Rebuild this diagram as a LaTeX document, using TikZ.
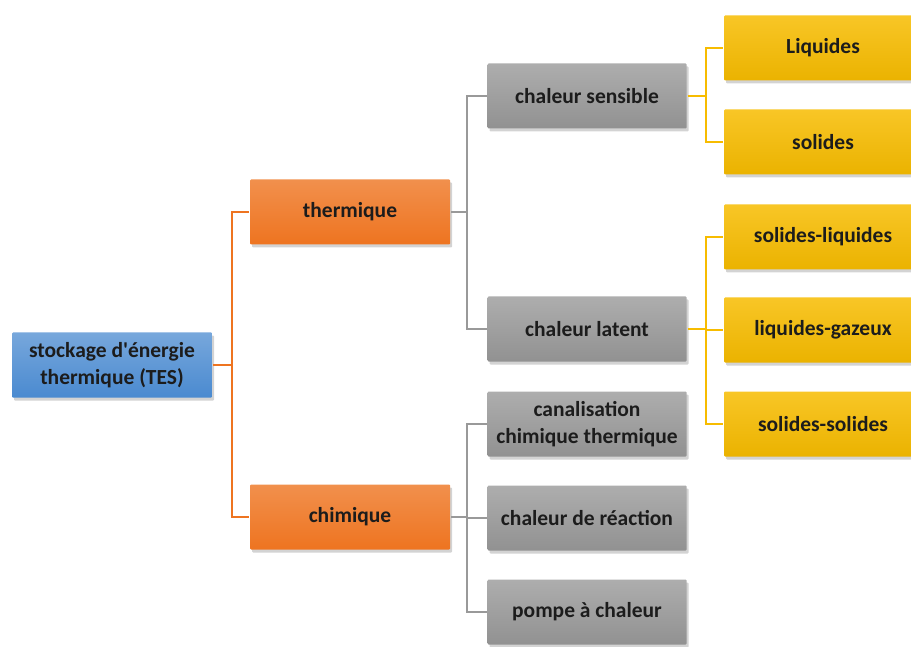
\documentclass[tikz,border=0pt]{standalone}
\usepackage{fontspec}
\setmainfont{Carlito}
\usepackage{tikz}
\usetikzlibrary{shadows}
\usetikzlibrary{positioning}

\definecolor{tesblue}{HTML}{4A8AD0}
\definecolor{thorange}{HTML}{EE7420}
\definecolor{chgray}{HTML}{999999}
\definecolor{phyellow}{HTML}{F7BC00}
\definecolor{txtdark}{HTML}{1C1C1C}

\begin{document}
\begin{tikzpicture}[x=1pt,y=-1pt,line width=2pt,
    box/.style={rectangle,rounded corners=1pt,minimum height=65pt,align=center,
        text=txtdark,font=\fontsize{21.5}{27}\selectfont\bfseries,
        drop shadow={shadow xshift=2pt,shadow yshift=-3pt,opacity=0.35}},
    root node/.style={box,minimum width=200pt,top color=tesblue!75!white,bottom color=tesblue},
    main node/.style={box,minimum width=200pt,top color=thorange!80!white,bottom color=thorange},
    sub node/.style={box,minimum width=199pt,top color=chgray!80!white,bottom color=chgray!95!black},
    leaf node/.style={box,minimum width=198pt,top color=phyellow!85!white,bottom color=phyellow!95!black}]
    \useasboundingbox (0,0) rectangle (911,647);

    \node[root node] (TES) at (112,365) {stockage d\textquotesingle énergie\\thermique (TES)};
    \node[main node] (TH) at (350,212) {thermique};
    \node[main node] (CH) at (350,517) {chimique};

    \node[sub node] (CS) at (587,96) {chaleur sensible};
    \node[sub node] (CL) at (587,329) {chaleur latent};
    \node[sub node] (CC) at (587,424) {canalisation\\chimique thermique};
    \node[sub node] (CR) at (587,518) {chaleur de réaction};
    \node[sub node] (PC) at (587,612) {pompe à chaleur};

    \node[leaf node] (LQ) at (823,48) {Liquides};
    \node[leaf node] (SO) at (823,142) {solides};
    \node[leaf node] (SL) at (823,237) {solides-liquides};
    \node[leaf node] (LG) at (823,330) {liquides-gazeux};
    \node[leaf node] (SS) at (823,424) {solides-solides};

    % branch points
    \coordinate (b0) at (232,365);
    \coordinate (b1) at (467,212);
    \coordinate (b2) at (467,517);
    \coordinate (b3) at (706,96);
    \coordinate (b4) at (706,329);

    \draw[thorange] (TES.east) -- (b0) (b0) |- (TH.west) (b0) |- (CH.west);
    \draw[chgray] (TH.east) -- (b1) (b1) |- (CS.west) (b1) |- (CL.west);
    \draw[chgray] (CH.east) -- (b2) (b2) |- (CC.west) (b2) |- (CR.west) (b2) |- (PC.west);
    \draw[phyellow] (CS.east) -- (b3) (b3) |- (LQ.west) (b3) |- (SO.west);
    \draw[phyellow] (CL.east) -- (b4) (b4) |- (SL.west) (b4) |- (LG.west) (b4) |- (SS.west);
\end{tikzpicture}
\end{document}
